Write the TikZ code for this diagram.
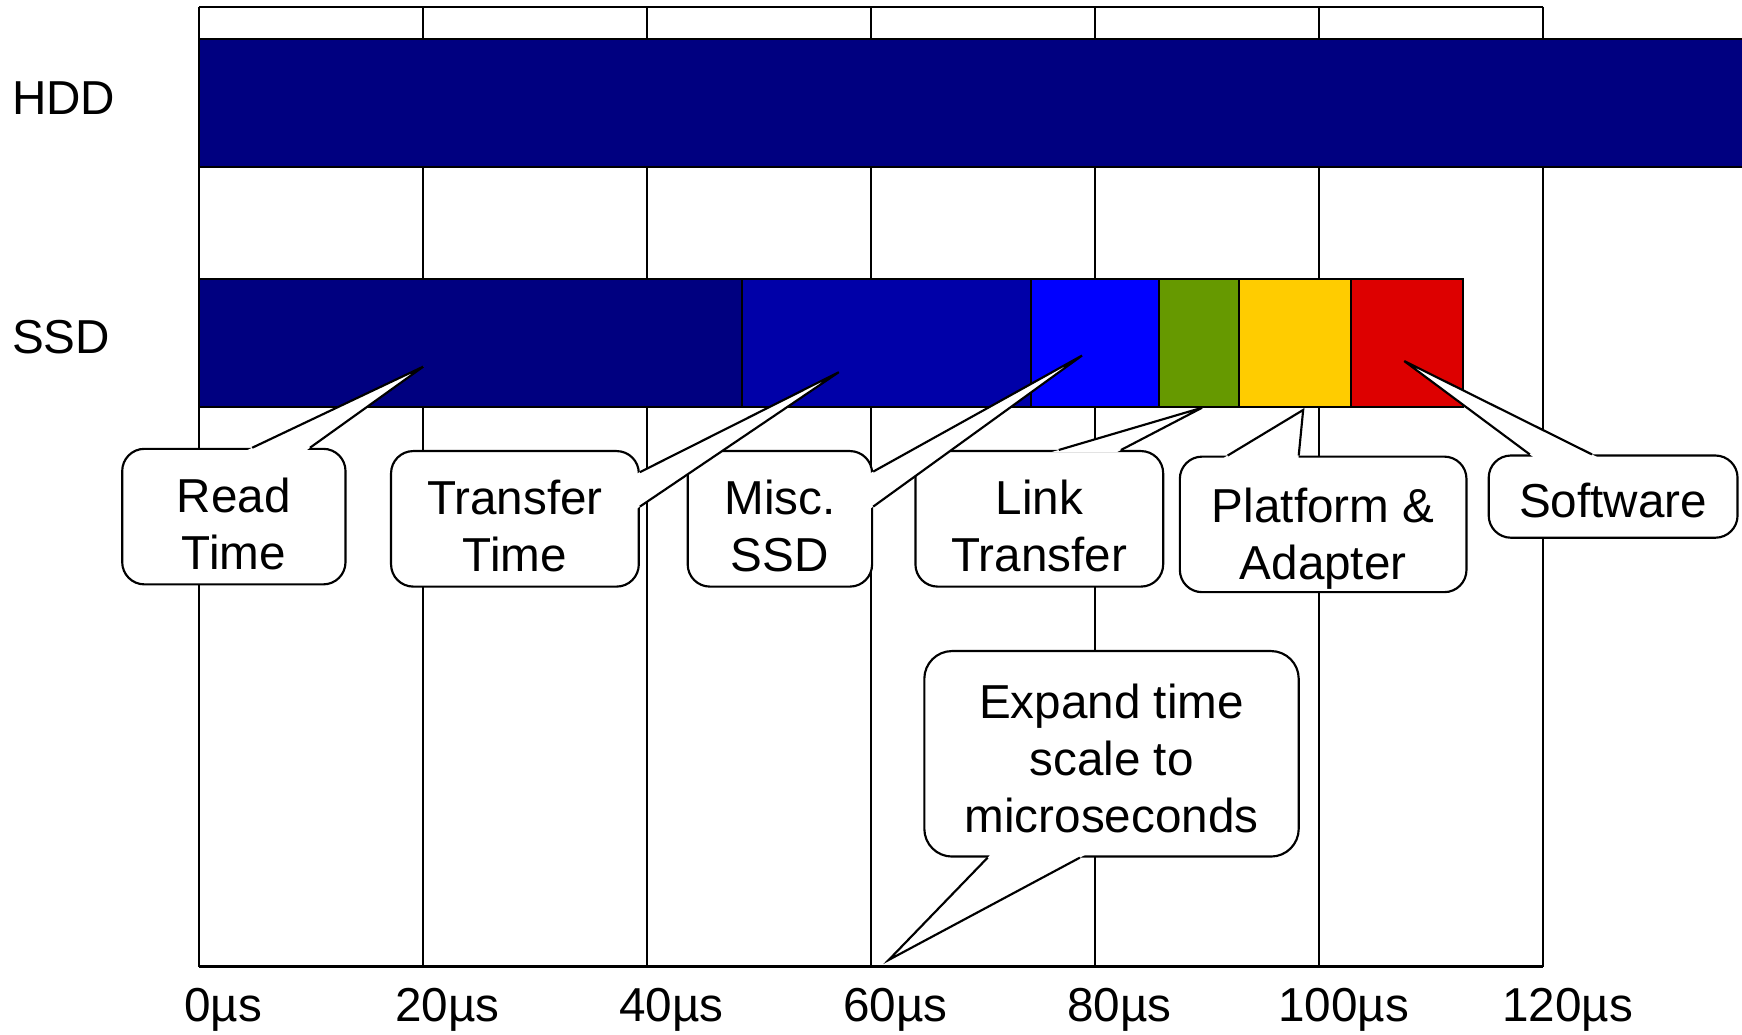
\documentclass[tikz,border=0pt]{standalone}
\usepackage{fontspec}
\setmainfont{Liberation Sans}
\usetikzlibrary{calc}

\definecolor{navybar}{HTML}{000080}
\definecolor{midblue}{HTML}{0000A8}
\definecolor{linkblue}{HTML}{0000FF}
\definecolor{olivebar}{HTML}{669900}
\definecolor{goldbar}{HTML}{FFCC00}
\definecolor{redbar}{HTML}{DD0000}

\newcommand{\topstrut}[1][12.6pt]{\rule{0pt}{#1}}

\begin{document}
\begin{tikzpicture}[x=0.1mm,y=-0.1mm,line width=0.55pt,
    font=\fontsize{12.2}{14.6}\selectfont]
\useasboundingbox (0,0) rectangle (1568,931);

\foreach \i in {0,...,6}
    \draw (179+201.67*\i,6) -- (179+201.67*\i,870);
\draw (179,6) -- (1389,6);
\draw[line width=0.9pt] (179,870) -- (1389,870);

\fill[navybar] (179,35) rectangle (1575,150);
\draw (1575,35) -- (179,35) -- (179,150) -- (1575,150);
\foreach \a/\b/\c in {179/668/navybar, 668/928/midblue, 928/1043/linkblue,
                      1043/1115/olivebar, 1115/1216/goldbar, 1216/1317/redbar}
    \draw[fill=\c] (\a,251) rectangle (\b,366);

\begin{scope}[every node/.style={inner sep=0pt}]
    \node[anchor=west] (hdd) at (10,88) {HDD};
    \node[anchor=west] (ssd) at (10,303) {SSD};
    \foreach \t [count=\i from 0] in {0,20,40,60,80,100,120}
        \node (tick\t) at (201+201.67*\i,909) {\t µs};
\end{scope}

\begin{scope}[every node/.style={draw,fill=white,rounded corners=2mm,
                                 align=center,inner sep=0pt,minimum height=12.2mm}]
    \node[minimum width=20.1mm] (read) at (210.5,465) {\topstrut Read\\Time};
    \node[minimum width=22.3mm] (transfer) at (463.5,467) {\topstrut Transfer\\Time};
    \node[minimum width=16.6mm] (misc) at (702,467) {\topstrut Misc.\\SSD};
    \node[minimum width=22.3mm] (link) at (935.5,467) {\topstrut Link\\Transfer};
    \node[minimum width=25.8mm] (platform) at (1191,472) {\topstrut[16pt]Platform \&\\Adapter};
    \node[minimum width=22.4mm,minimum height=7.4mm] (software)
        at (1452,447) {\topstrut[10.8pt]Software};
    \node[minimum width=33.7mm,minimum height=18.5mm,rounded corners=2.5mm]
        (expand) at (1000.5,678.5) {\topstrut[11.4pt]Expand time\\scale to\\microseconds};
\end{scope}

\coordinate (readA) at ([xshift=1.65mm]read.north);
\coordinate (readB) at ([xshift=6.85mm]read.north);
\coordinate (readtip) at (381,330);
\coordinate (transferA) at ([yshift=4.2mm]transfer.east);
\coordinate (transferB) at ([yshift=1.1mm]transfer.east);
\coordinate (transfertip) at (755,335);
\coordinate (miscA) at ([yshift=4.25mm]misc.east);
\coordinate (miscB) at ([yshift=1.1mm]misc.east);
\coordinate (misctip) at (974,320);
\coordinate (linkA) at ([xshift=1.75mm]link.north);
\coordinate (linkB) at ([xshift=7.35mm]link.north);
\coordinate (linktip) at (1082,367);
\coordinate (platformA) at ([xshift=-8.6mm]platform.north);
\coordinate (platformB) at ([xshift=-2.2mm]platform.north);
\coordinate (platformtip) at (1173,369);
\coordinate (softwareA) at ([xshift=-7.5mm]software.north);
\coordinate (softwareB) at ([xshift=-1.9mm]software.north);
\coordinate (softwaretip) at (1264,325);
\coordinate (expandA) at ([xshift=-11.15mm]expand.south);
\coordinate (expandB) at ([xshift=-2.85mm]expand.south);
\coordinate (expandtip) at (800,864);

\foreach \p in {read,transfer,misc,link,platform,software,expand} {
    \fill[white] (\p tip) -- ($(\p tip)!1.05!(\p A)$) -- ($(\p tip)!1.05!(\p B)$) -- cycle;
    \draw (\p A) -- (\p tip) -- (\p B);
}
\end{tikzpicture}
\end{document}
